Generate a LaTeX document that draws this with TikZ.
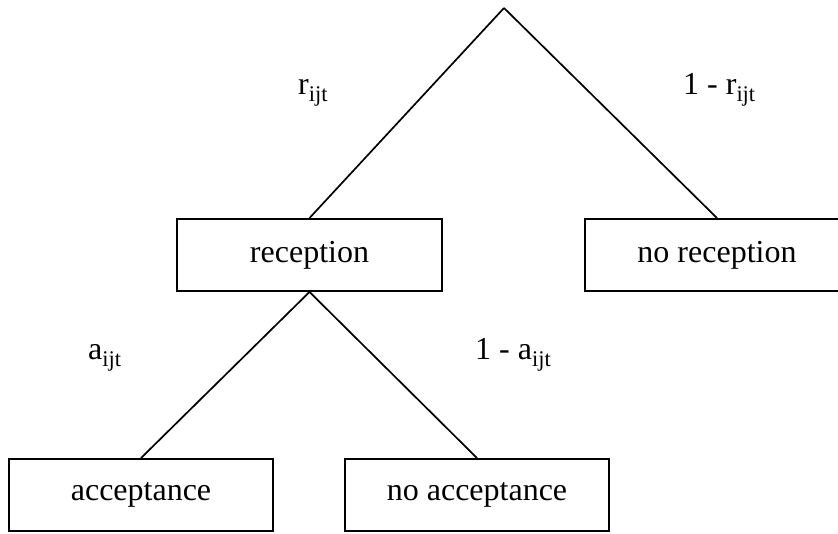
\documentclass[tikz,border=0pt]{standalone}
\usepackage{fontspec}
\setmainfont{Liberation Serif}
\begin{document}
\begin{tikzpicture}[x=1pt,y=-1pt,
  every node/.style={font=\fontsize{32}{38}\selectfont},
  outcome/.style={draw,line width=1.9pt,rectangle,minimum width=264pt,minimum height=72pt,inner sep=0pt},
  branch/.style={line width=1.7pt},
  prob/.style={anchor=base west,inner sep=0pt}]
\clip (0,0) rectangle (838,534);
\fill[white] (0,0) rectangle (838,534);

% root of the tree
\coordinate (root) at (504,8);

% outcome boxes
\node[outcome,minimum width=265pt] (rec) at (309.5,255) {reception};
\node[outcome] (norec)  at (717,255)   {no reception};
\node[outcome] (acc)    at (141,495)   {acceptance};
\node[outcome] (noacc)  at (477,495)   {no acceptance};

% branches
\draw[branch] (root) -- (rec.north);
\draw[branch] (root) -- (norec.north);
\draw[branch] (rec.south) -- (acc.north);
\draw[branch] (rec.south) -- (noacc.north);

% branch probabilities
\node[prob] (pr)   at (298,95)  {r\textsubscript{ijt}};
\node[prob] (pnr)  at (683,95)  {1 - r\textsubscript{ijt}};
\node[prob] (pa)   at (88,360)  {a\textsubscript{ijt}};
\node[prob] (pna)  at (475,360) {1 - a\textsubscript{ijt}};
\end{tikzpicture}
\end{document}
